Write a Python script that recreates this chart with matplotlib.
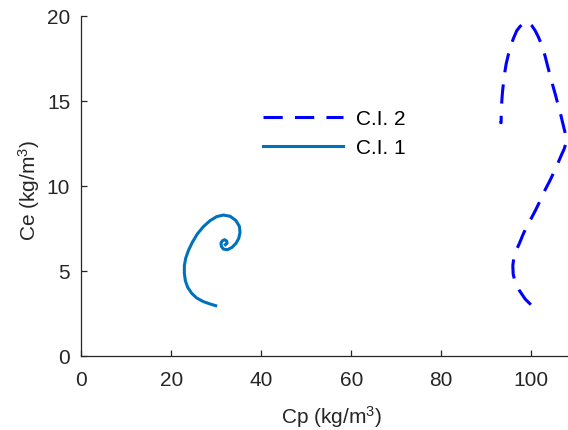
import matplotlib
matplotlib.use("Agg")
import matplotlib.pyplot as plt

plt.rcParams["font.family"] = ["Liberation Sans", "DejaVu Sans"]
plt.rcParams["mathtext.fontset"] = "custom"
plt.rcParams["mathtext.rm"] = "Liberation Sans"
plt.rcParams["mathtext.it"] = "Liberation Sans"

# ---------- data ----------
# C.I. 1 : spiral towards a fixed point
ci1_cp = [29.88, 28.62, 27.14, 25.65, 24.54, 23.65, 23.13, 22.91, 22.91,
          23.21, 23.80, 24.69, 25.80, 27.14, 28.62, 30.10, 31.58, 33.07,
          34.33, 35.14, 35.29, 35.00, 34.40, 33.51, 32.47, 31.58, 31.14,
          31.06, 31.36, 31.88, 32.32, 32.40, 32.03]
ci1_ce = [2.96, 3.06, 3.20, 3.41, 3.69, 4.04, 4.43, 4.88, 5.31,
          5.75, 6.20, 6.69, 7.18, 7.61, 7.96, 8.20, 8.29, 8.22,
          7.98, 7.63, 7.27, 6.92, 6.63, 6.39, 6.25, 6.29, 6.45,
          6.65, 6.78, 6.84, 6.76, 6.63, 6.55]

# C.I. 2 : large loop on the right
ci2_cp = [99.93, 98.67, 97.41, 96.44, 96.00, 95.92, 96.15, 96.66, 97.33,
          98.15, 99.04, 100.15, 101.11, 102.00, 103.11, 104.08, 105.11,
          105.86, 106.82, 107.34, 107.78, 107.71, 107.34, 106.89, 106.45,
          105.93, 105.41, 104.82, 104.22, 103.63, 103.11, 102.45, 101.63,
          100.89, 100.15, 99.26, 98.44, 97.55, 96.81, 96.07, 95.48, 94.96,
          94.44, 94.14, 93.85, 93.62, 93.48, 93.40, 93.33, 93.33, 92.96]
ci2_ce = [3.02, 3.35, 3.84, 4.33, 4.82, 5.31, 5.80, 6.20, 6.59,
          7.12, 7.63, 8.16, 8.65, 9.14, 9.78, 10.27, 10.84,
          11.29, 11.88, 12.18, 12.57, 12.96, 13.35, 13.84, 14.33,
          14.82, 15.35, 15.90, 16.49, 17.08, 17.63, 18.22, 18.75,
          19.14, 19.43, 19.67, 19.59, 19.39, 19.14, 18.69, 18.25, 17.76,
          17.18, 16.69, 16.10, 15.51, 15.02, 14.53, 14.04, 13.73, 13.73]

x_ticks = [0, 20, 40, 60, 80, 100]
y_ticks = [0, 5, 10, 15, 20]

# ---------- figure ----------
fig = plt.figure(figsize=(5.68, 4.31), dpi=100)
ax = fig.add_axes([0.1431, 0.1717, 0.857, 0.7889])

lw = 2.2
l2, = ax.plot(ci2_cp, ci2_ce, color="#0000FF", lw=lw, label="C.I. 2",
              dashes=(6.3, 4.0), dash_joinstyle="round")
l1, = ax.plot(ci1_cp, ci1_ce, color="#0072BD", lw=lw, label="C.I. 1",
              solid_joinstyle="round")

ax.set_xlim(0, 108.2)
ax.set_ylim(0, 20)
ax.set_xticks(x_ticks)
ax.set_yticks(y_ticks)

for side in ("top", "right"):
    ax.spines[side].set_visible(False)
for side in ("left", "bottom"):
    ax.spines[side].set_color("#262626")
    ax.spines[side].set_linewidth(0.9)

ax.tick_params(direction="in", length=4, width=0.9, colors="#262626",
               labelsize=15)
ax.tick_params(axis="x", pad=10)
ax.tick_params(axis="y", pad=8)

ax.set_xlabel("Cp (kg/m$^3$)", fontsize=15, color="#262626")
ax.set_ylabel("Ce (kg/m$^3$)", fontsize=15, color="#262626")
ax.xaxis.set_label_coords(0.514, -0.138)
ax.yaxis.set_label_coords(-0.08, 0.49)

ax.legend(handles=[l2, l1], loc="upper left", bbox_to_anchor=(0.373, 0.727),
          frameon=False, fontsize=15, handlelength=3.85, handletextpad=0.62,
          labelspacing=0.5, borderpad=0, borderaxespad=0)

fig.savefig("out.png", dpi=100)
